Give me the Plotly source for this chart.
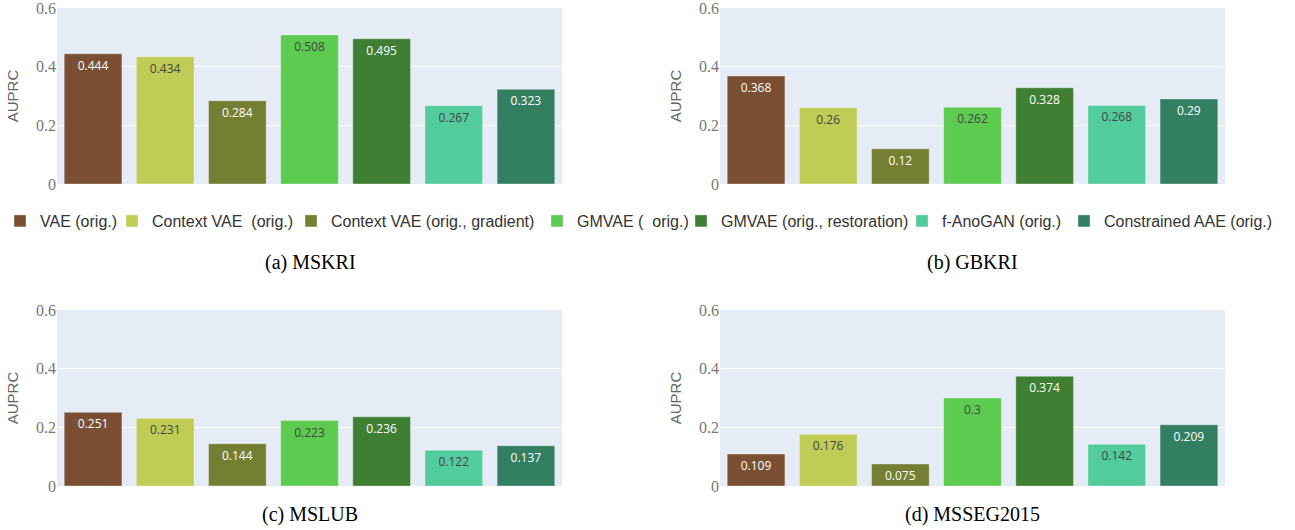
import plotly.graph_objects as go

# Models compared and their bar colours
models = [
    "VAE (orig.)",
    "Context VAE\u00a0 (orig.)",
    "Context VAE (orig., gradient)",
    "GMVAE (\u00a0 orig.)",
    "GMVAE (orig., restoration)",
    "f-AnoGAN (orig.)",
    "Constrained AAE (orig.)",
]
colors = ["#7b4f33", "#bfcc55", "#747f33", "#5dcb50", "#3f7f33", "#52cc9c", "#337f62"]

# AUPRC per dataset, in model order
mskri = [0.444, 0.434, 0.284, 0.508, 0.495, 0.267, 0.323]
gbkri = [0.368, 0.26, 0.12, 0.262, 0.328, 0.268, 0.29]
mslub = [0.251, 0.231, 0.144, 0.223, 0.236, 0.122, 0.137]
msseg2015 = [0.109, 0.176, 0.075, 0.3, 0.374, 0.142, 0.209]

captions = ["(a) MSKRI", "(b) GBKRI", "(c) MSLUB", "(d) MSSEG2015"]
y_ticks = [0, 0.2, 0.4, 0.6]

W, H = 1295, 530
panels = [
    (mskri, "x", "y", (57, 562), (8, 184)),
    (gbkri, "x2", "y2", (720, 1225), (8, 184)),
    (mslub, "x3", "y3", (57, 562), (310, 486)),
    (msseg2015, "x4", "y4", (720, 1225), (310, 486)),
]

# one single-entry legend per model, laid out as a row between the panels
legend_left_px = [0, 112, 291, 537, 681, 902, 1064]
legend_names = ["legend"] + [f"legend{k}" for k in range(2, len(models) + 1)]

fig = go.Figure()

for p, (vals, xa, ya, _, _) in enumerate(panels):
    for i, (m, c) in enumerate(zip(models, colors)):
        fig.add_trace(go.Bar(
            x=[m], y=[vals[i]], name=m,
            text=[vals[i]], textposition="inside", insidetextanchor="end",
            textfont=dict(family="Open Sans", size=12),
            marker=dict(color=c, line=dict(color="rgba(255,255,255,0.35)", width=1)),
            xaxis=xa, yaxis=ya, legendgroup=m, showlegend=(p == 0),
            legend=legend_names[i], hoverinfo="skip",
        ))

layout = dict(
    width=W, height=H,
    margin=dict(l=0, r=0, t=0, b=0),
    paper_bgcolor="white",
    plot_bgcolor="#e5ecf6",
    barmode="overlay",
    bargap=0.2,
    uniformtext=dict(mode="show", minsize=12),
)

for name, lx in zip(legend_names, legend_left_px):
    layout[name] = dict(
        orientation="h", x=lx / W, xanchor="left", y=1 - 221 / H, yanchor="middle",
        font=dict(family="Liberation Sans", size=16, color="#333"),
        bgcolor="rgba(0,0,0,0)",
    )

for p, (vals, xa, ya, (x0, x1), (y0, y1)) in enumerate(panels):
    xkey = "xaxis" if xa == "x" else "xaxis" + xa[1:]
    ykey = "yaxis" if ya == "y" else "yaxis" + ya[1:]
    layout[xkey] = dict(
        domain=[x0 / W, x1 / W], anchor=ya, showticklabels=False, automargin=False,
        showgrid=False, zeroline=False, categoryorder="array", categoryarray=models,
    )
    layout[ykey] = dict(
        domain=[1 - y1 / H, 1 - y0 / H], anchor=xa, range=[0, 0.6], automargin=False,
        tickvals=y_ticks, ticktext=["0", "0.2", "0.4", "0.6"], ticklabeloverflow="allow",
        tickfont=dict(family="Liberation Serif", size=16, color="#777"),
        gridcolor="white", gridwidth=1, zeroline=False,
        title=dict(text="AUPRC", font=dict(family="Liberation Sans", size=15, color="#666"), standoff=13),
    )

fig.update_layout(**layout)

caption_pos = [(310, 262), (972, 262), (310, 514), (972, 514)]
for cap, (cx, cy) in zip(captions, caption_pos):
    fig.add_annotation(
        text=cap, x=cx / W, y=1 - cy / H, xref="paper", yref="paper",
        xanchor="center", yanchor="middle", showarrow=False,
        font=dict(family="Liberation Serif", size=20, color="black"),
    )

fig.write_html("out.html")
